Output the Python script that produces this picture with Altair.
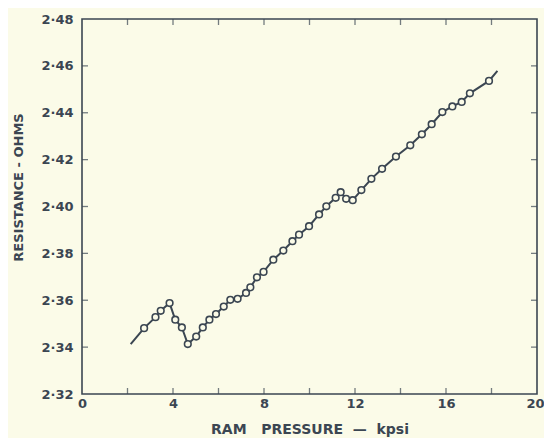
import altair as alt
import pandas as pd

# Measured circles (RAM pressure kpsi, resistance ohms)
pts_x = [2.73, 3.23, 3.46, 3.85, 4.10, 4.39, 4.65, 5.02, 5.31, 5.60, 5.89, 6.23,
         6.52, 6.84, 7.21, 7.40, 7.69, 7.98, 8.41, 8.85, 9.25, 9.54, 9.98, 10.42,
         10.74, 11.15, 11.37, 11.61, 11.90, 12.28, 12.72, 13.19, 13.80, 14.43,
         14.94, 15.37, 15.84, 16.28, 16.69, 17.05, 17.89]
pts_y = [2.3481, 2.3528, 2.3555, 2.3588, 2.3517, 2.3484, 2.3413, 2.3445, 2.3484,
         2.3517, 2.3541, 2.3573, 2.3602, 2.3606, 2.3631, 2.3655, 2.3698, 2.3721,
         2.3773, 2.3812, 2.3852, 2.3880, 2.3916, 2.3966, 2.4001, 2.4037, 2.4061,
         2.4033, 2.4027, 2.4070, 2.4118, 2.4161, 2.4213, 2.4261, 2.4308, 2.4351,
         2.4403, 2.4427, 2.4446, 2.4483, 2.4536]

# Curve ends beyond the first and last circle
line_start = (2.14, 2.3413)
line_end = (18.26, 2.4579)

x_labels = [0, 4, 8, 12, 16, 20]
y_labels = [2.32, 2.34, 2.36, 2.38, 2.40, 2.42, 2.44, 2.46, 2.48]
x_ticks = [2, 4, 6, 8, 10, 12, 14, 16, 18]
y_ticks = [2.34, 2.36, 2.38, 2.40, 2.42, 2.44, 2.46]

INK = "#3b4652"
BG = "#fbfbe8"
FONT = "DejaVu Sans"
NB = "\u00a0"

pts = pd.DataFrame({"x": pts_x, "y": pts_y})
line = pd.DataFrame({
    "x": [line_start[0]] + pts_x + [line_end[0]],
    "y": [line_start[1]] + pts_y + [line_end[1]],
})
line["order"] = range(len(line))

xs = alt.Scale(domain=[0, 20], nice=False, zero=False)
ys = alt.Scale(domain=[2.32, 2.48], nice=False, zero=False)

x_title = "RAM" + NB * 3 + "PRESSURE" + NB * 2 + "\u2014" + NB * 2 + "kpsi"

x_axis = alt.Axis(values=x_labels, title=x_title, grid=False,
                  domain=False, ticks=False, labelPadding=3, titlePadding=12,
                  labelFontSize=13, titleFontSize=14, labelFontWeight="bold",
                  titleFontWeight="bold", labelFont=FONT, titleFont=FONT,
                  labelColor=INK, titleColor=INK, labelFlush=False,
                  labelOffset={"condition": {"test": "datum.value == 20", "value": -2},
                               "value": 0})
y_axis = alt.Axis(values=y_labels, title="RESISTANCE - OHMS", grid=False,
                  domain=False, ticks=False, labelPadding=9, titlePadding=15,
                  labelFontSize=13, titleFontSize=13, labelFontWeight="bold",
                  titleFontWeight="bold", labelFont=FONT, titleFont=FONT,
                  labelColor=INK, titleColor=INK, labelFlush=False, titleY=168,
                  labelExpr="replace(format(datum.value, '.2f'), '.', '\u00b7')")

curve = alt.Chart(line).mark_line(color=INK, strokeWidth=2).encode(
    x=alt.X("x:Q", scale=xs, axis=x_axis),
    y=alt.Y("y:Q", scale=ys, axis=y_axis),
    order="order:Q",
)

circles = alt.Chart(pts).mark_point(shape="circle", size=44, filled=True,
                                    fill=BG, stroke=INK, strokeWidth=1.6,
                                    opacity=1).encode(
    x=alt.X("x:Q", scale=xs),
    y=alt.Y("y:Q", scale=ys),
)

xt = pd.DataFrame({"x": x_ticks})
yt = pd.DataFrame({"y": y_ticks})

xt_bottom = alt.Chart(xt).mark_tick(orient="vertical", size=6, thickness=1.3,
                                    color=INK, yOffset=-3).encode(
    x=alt.X("x:Q", scale=xs), y=alt.datum(2.32, scale=ys))
xt_top = alt.Chart(xt).mark_tick(orient="vertical", size=6, thickness=1.3,
                                 color=INK, yOffset=3).encode(
    x=alt.X("x:Q", scale=xs), y=alt.datum(2.48, scale=ys))
yt_left = alt.Chart(yt).mark_tick(orient="horizontal", size=6, thickness=1.3,
                                  color=INK, xOffset=3).encode(
    y=alt.Y("y:Q", scale=ys), x=alt.datum(0, scale=xs))
yt_right = alt.Chart(yt).mark_tick(orient="horizontal", size=6, thickness=1.3,
                                   color=INK, xOffset=-3).encode(
    y=alt.Y("y:Q", scale=ys), x=alt.datum(20, scale=xs))

chart = alt.layer(curve, circles, xt_bottom, xt_top, yt_left, yt_right).properties(
    width=455, height=375,
    background=BG,
    padding={"left": 74, "top": 11, "right": 7, "bottom": 44},
    autosize=alt.AutoSizeParams(type="none"),
).configure_view(stroke=INK, strokeWidth=1.6)

chart.save("out.html", embed_options={"renderer": "svg", "actions": False})
